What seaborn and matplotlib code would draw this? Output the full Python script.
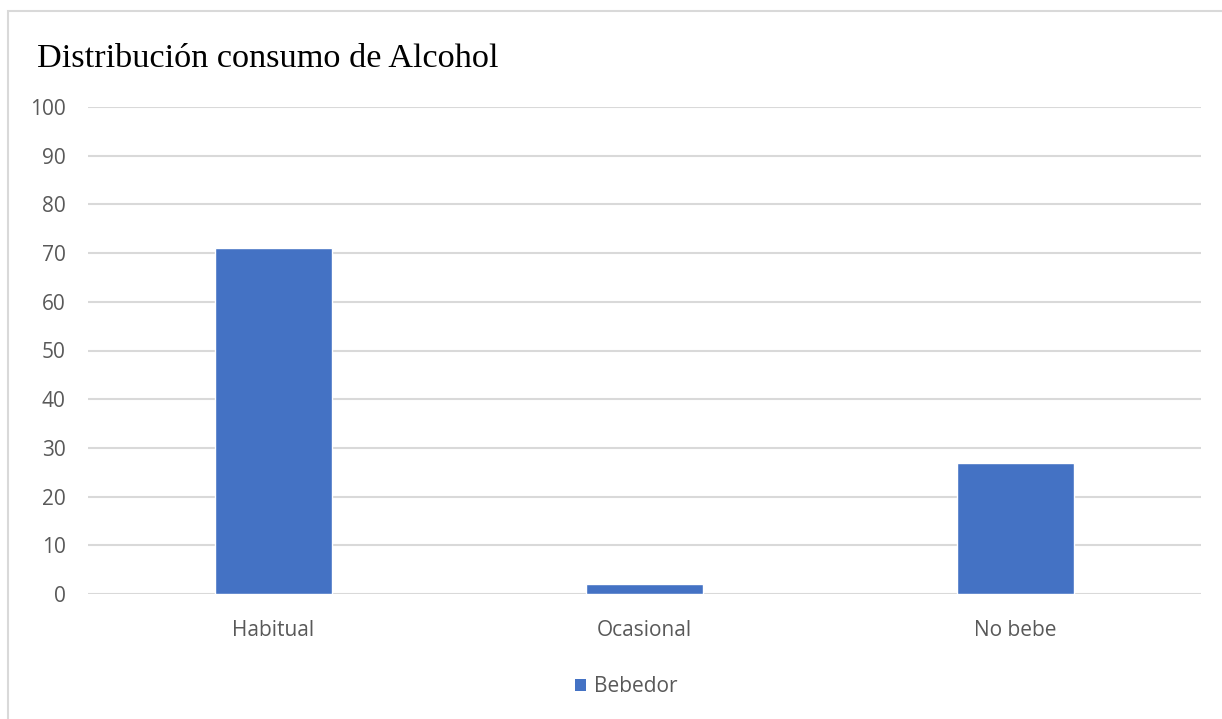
import matplotlib
matplotlib.use("Agg")
import matplotlib.pyplot as plt
from matplotlib.patches import Rectangle
import seaborn as sns
import pandas as pd

categorias = ["Habitual", "Ocasional", "No bebe"]
bebedor = [71, 2, 27]
serie = "Bebedor"
titulo = "Distribución consumo de Alcohol"
yticks = list(range(0, 101, 10))

df = pd.DataFrame({"categoria": categorias, "valor": bebedor, "serie": [serie] * len(categorias)})

sns.set_theme(style="white")
plt.rcParams["font.family"] = ["Open Sans", "DejaVu Sans"]

W, H = 1222, 719
fig = plt.figure(figsize=(W / 100, H / 100), dpi=100)
fig.patch.set_facecolor("white")

# outer chart frame
fig.add_artist(Rectangle((8 / W, -0.05), 1.1, 1 - 11 / H + 0.05, transform=fig.transFigure,
                         fill=False, edgecolor="#D9D9D9", linewidth=1.5))

ax = fig.add_axes([88 / W, 1 - 594 / H, (1201 - 88) / W, (594 - 107) / H])
sns.barplot(data=df, x="categoria", y="valor", hue="serie", palette=["#4472C4"],
            saturation=1, width=0.313, ax=ax, legend=False)

ax.set_xlim(-0.5, 2.5)
ax.set_ylim(0, 100)
ax.set_yticks(yticks)
ax.yaxis.grid(True, color="#D9D9D9", linewidth=1.5)
ax.set_axisbelow(True)
for s in ax.spines.values():
    s.set_visible(False)
ax.tick_params(axis="both", length=0, colors="#595959", labelsize=15)
ax.tick_params(axis="y", pad=16)
ax.tick_params(axis="x", pad=18.5)
ax.set_xlabel("")
ax.set_ylabel("")

fig.text(37 / W, 1 - 59 / H, titulo, family=["Liberation Serif", "DejaVu Serif"],
         fontsize=24.7, color="#000000", va="center", ha="left")

handle = Rectangle((0, 0), 1, 1, facecolor="#4472C4", edgecolor="none")
fig.legend([handle], [serie], loc="center", bbox_to_anchor=(626 / W, 1 - 687 / H),
           frameon=False, handlelength=0.55, handleheight=0.55, handletextpad=0.35,
           prop={"size": 15}, labelcolor="#595959")

fig.savefig("out.png", dpi=100, facecolor="white")
